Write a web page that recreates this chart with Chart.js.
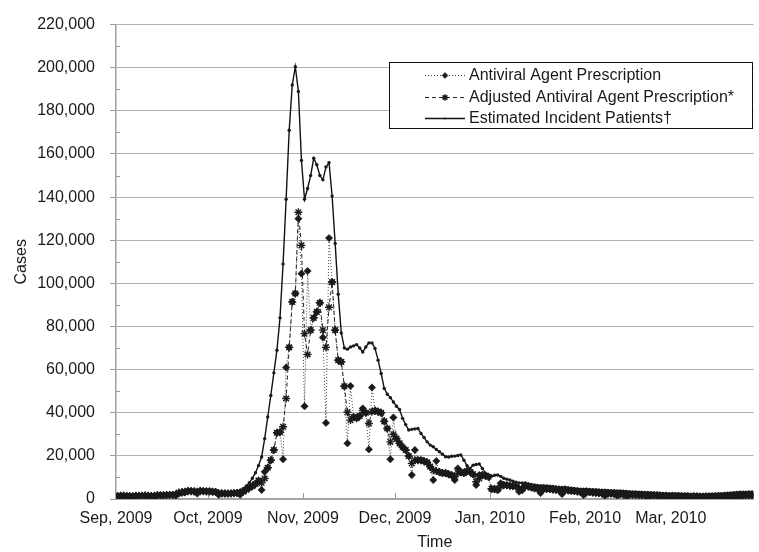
<!DOCTYPE html>
<html>
<head>
<meta charset="utf-8">
<script src="https://cdn.jsdelivr.net/npm/chart.js@4.4.1/dist/chart.umd.min.js"></script>
<style>
  html, body { margin: 0; padding: 0; background: #fff; }
  canvas { display: block; }
</style>
</head>
<body>
<canvas id="chart" width="759" height="552"></canvas>
<script>
// daily values, day 0 = 1 Sep 2009 ... day 207 = 27 Mar 2010
const monthStarts = [0, 30, 61, 91, 122, 153, 181];
const monthLabels = ["Sep, 2009", "Oct, 2009", "Nov, 2009", "Dec, 2009", "Jan, 2010", "Feb, 2010", "Mar, 2010"];
const seriesNames = ["Antiviral Agent Prescription", "Adjusted Antiviral Agent Prescription*", "Estimated Incident Patients\u2020"];

const antiviral = [
  1400,1500,1500,1400,1300,800,1600,1500,1500,1600,
  1500,1400,900,1800,1700,1700,1800,1900,1900,1500,
  2500,2800,3000,3800,3700,3600,2500,3900,3700,3600,
  3600,3400,3300,2000,2700,2600,2500,2600,2700,2900,
  2000,3500,4500,5200,6000,7000,8500,4200,12600,14500,
  18000,22700,30700,31000,18400,61000,70300,91400,95300,130000,
  104500,43000,105700,78300,84000,86800,91000,74900,35300,121000,
  100600,78300,64400,63600,52300,25800,52400,38000,37500,38500,
  42000,40000,23000,51700,41000,40500,40000,36000,32700,18400,
  37800,28000,25800,24000,22700,19900,11100,22700,18000,18000,
  17500,17000,15000,8800,17600,12500,12000,12000,11500,11000,
  8800,14200,12500,12000,13000,12500,11500,6500,11100,11100,
  10800,10300,4500,4500,4000,7300,6500,6400,6200,6000,
  5800,3400,4000,6500,5800,5400,5000,4800,2800,5200,
  4700,4600,4400,4300,4100,2300,4500,4000,3800,3700,
  3500,3300,1800,3500,3200,3000,2900,2800,2600,1500,
  2800,2500,2400,1500,2400,2100,1200,2300,2000,1900,
  1800,1800,1600,900,1800,1600,1500,1400,1400,1300,
  700,1500,1300,1200,1200,1100,1100,600,1300,1100,
  1100,1000,1000,1000,500,1200,1100,1100,1200,1200,
  1200,700,1500,1400,1500,1600,1700,1700
];

const adjusted = [
  1400,1500,1500,1400,1300,1300,1400,1500,1500,1600,
  1500,1400,1500,1700,1700,1700,1800,1900,1900,2200,
  3000,3200,3400,3600,3600,3500,3400,3600,3600,3500,
  3500,3400,3200,2700,2500,2500,2500,2600,2700,2800,
  3000,3400,4300,5200,6000,7000,8500,7500,9500,14500,
  18000,22700,30700,31000,33500,46600,70300,91400,95300,133000,
  117600,76700,67000,78300,84000,86800,91000,78300,70300,88900,
  100600,78300,64400,63600,52300,40200,36600,38000,37500,38500,
  41000,40000,35000,40500,41000,40500,40000,36000,32700,26500,
  30000,28000,25800,24000,22700,19900,16500,18000,18000,18000,
  17500,17000,15000,13400,13000,12500,12000,12000,11500,11000,
  10300,12000,12500,12000,13000,12500,11500,8000,9500,11100,
  10800,10300,4800,4700,4600,6000,6500,6400,6200,6000,
  5800,4800,4800,5800,5800,5400,5000,4800,4000,4600,
  4700,4600,4400,4300,4100,3500,4000,4000,3800,3700,
  3500,3300,2800,3000,3200,3000,2900,2800,2600,2200,
  2400,2500,2400,2100,2200,2100,1800,1900,2000,1900,
  1800,1800,1600,1300,1500,1600,1500,1400,1400,1300,
  1100,1200,1300,1200,1200,1100,1100,900,1000,1100,
  1100,1000,1000,1000,800,1000,1100,1100,1200,1200,
  1200,1100,1300,1400,1500,1600,1700,1700
];

const estimated = [
  1500,1400,1500,1600,1500,1300,1600,1500,1600,1700,
  1600,1700,1500,1800,1900,1800,1900,2000,2300,2800,
  3300,3600,3800,3700,3500,3600,3400,3500,3700,3600,
  3300,2800,2600,2500,2600,2700,2800,3000,3200,3500,
  4000,4800,6000,7600,9600,12200,15500,19500,28000,38000,
  48000,58500,69000,84000,109000,139000,171000,192000,200500,189000,
  157000,139000,144000,150000,158000,155000,150000,148000,154000,156000,
  140500,118500,95000,77000,70000,69500,70500,71000,71600,70000,
  68200,70500,72400,72400,69800,64400,58200,51300,48600,47000,
  45000,43000,41500,37400,34500,32000,32300,32500,32700,30400,
  28500,26500,25000,24200,23000,21900,20800,19600,19500,19800,
  19900,20200,20400,18000,15500,14200,15700,16000,16200,14200,
  12000,10300,10600,11000,11100,10500,9600,9200,8800,8200,
  7800,7500,7400,7300,7000,6700,6500,6300,6200,6100,
  6000,5900,5800,5600,5500,5400,5300,5100,5000,4900,
  4700,4600,4500,4500,4400,4300,4300,4200,4100,4100,
  4000,3900,3800,3700,3700,3600,3500,3400,3300,3300,
  3200,3100,3000,3000,2900,2800,2800,2700,2600,2600,
  2500,2500,2400,2400,2300,2300,2300,2200,2200,2200,
  2100,2100,2200,2200,2300,2300,2400,2500,2600,2700,
  2800,2900,3000,3100,3100,3200,3300,3300
];

const FONT = "'Liberation Sans', Arial, sans-serif";
const INK = "#1a1a1a";
const GRID = "#b0b0b0";

function toPoints(values) {
  return values.map((v, i) => ({ x: i, y: v }));
}

const styles = [
  { borderColor: "#444", borderWidth: 1, borderDash: [1, 2], pointStyle: "rectRot", pointRadius: 3.7,
    pointBackgroundColor: INK, pointBorderColor: INK, pointBorderWidth: 0.5 },
  { borderColor: "#222", borderWidth: 1, borderDash: [4, 3], pointStyle: "star", pointRadius: 4,
    pointBackgroundColor: INK, pointBorderColor: INK, pointBorderWidth: 1.4 },
  { borderColor: "#111", borderWidth: 1.4, borderDash: [], pointStyle: "circle", pointRadius: 1.7,
    pointBackgroundColor: INK, pointBorderColor: INK, pointBorderWidth: 0 }
];

// minor ticks on y, inward month ticks on x
const axisDecor = {
  id: "axisDecor",
  beforeDatasetsDraw(chart) {
    const { ctx, chartArea, scales: { x, y } } = chart;
    ctx.save();
    ctx.strokeStyle = "#9a9a9a";
    ctx.lineWidth = 1;
    ctx.beginPath();
    for (let v = 10000; v < 220000; v += 20000) {
      const py = Math.round(y.getPixelForValue(v)) + 0.5;
      ctx.moveTo(chartArea.left, py);
      ctx.lineTo(chartArea.left + 4, py);
    }
    monthStarts.slice(1).forEach(d => {
      const px = Math.round(x.getPixelForValue(d - 0.5)) + 0.5;
      ctx.moveTo(px, chartArea.bottom);
      ctx.lineTo(px, chartArea.bottom - 6);
    });
    ctx.stroke();
    ctx.restore();
  }
};

// boxed legend inside the plot
const boxLegend = {
  id: "boxLegend",
  afterDraw(chart) {
    const { ctx } = chart;
    const box = { x: 389.5, y: 62.5, w: 363, h: 66 };
    const rows = [75, 97, 118];
    ctx.save();
    ctx.fillStyle = "#fff";
    ctx.fillRect(box.x, box.y, box.w, box.h);
    ctx.strokeStyle = "#111";
    ctx.lineWidth = 1;
    ctx.strokeRect(box.x, box.y, box.w, box.h);
    rows.forEach((ry, i) => {
      const s = styles[i];
      ctx.strokeStyle = s.borderColor;
      ctx.lineWidth = s.borderWidth;
      ctx.setLineDash(s.borderDash);
      ctx.beginPath();
      ctx.moveTo(425, ry + 0.5);
      ctx.lineTo(465, ry + 0.5);
      ctx.stroke();
      ctx.setLineDash([]);
      ctx.fillStyle = s.pointBackgroundColor;
      ctx.strokeStyle = s.pointBorderColor;
      ctx.lineWidth = s.pointBorderWidth;
      Chart.helpers.drawPoint(ctx, { pointStyle: s.pointStyle, radius: s.pointRadius - 0.7, rotation: 0, borderWidth: s.pointBorderWidth }, 445, ry + 0.5);
      ctx.fillStyle = INK;
      ctx.font = "16px " + FONT;
      ctx.textBaseline = "middle";
      ctx.textAlign = "left";
      ctx.fillText(seriesNames[i], 469, ry + 1);
    });
    ctx.restore();
  }
};

const chart = new Chart(document.getElementById("chart"), {
  type: "line",
  data: {
    datasets: [antiviral, adjusted, estimated].map((vals, i) => Object.assign({
      label: seriesNames[i],
      data: toPoints(vals),
      tension: 0,
      fill: false
    }, styles[i]))
  },
  options: {
    responsive: false,
    devicePixelRatio: 1,
    animation: false,
    layout: { padding: { top: 24, right: 1, left: 0, bottom: 0 } },
    plugins: { legend: { display: false }, tooltip: { enabled: false } },
    scales: {
      x: {
        type: "linear",
        min: -0.5,
        max: 207.5,
        afterBuildTicks: scale => {
          scale.ticks = monthStarts.map(d => ({ value: d - 0.5 }));
        },
        afterFit: scale => { scale.height = 53; },
        grid: { display: false, drawTicks: false },
        border: { display: true, color: "#a0a0a0", width: 1.5 },
        ticks: {
          autoSkip: false,
          maxRotation: 0,
          padding: 10,
          color: INK,
          font: { family: FONT, size: 16 },
          callback: value => monthLabels[monthStarts.indexOf(value + 0.5)]
        },
        title: { display: true, text: "Time", color: INK, font: { family: FONT, size: 16 }, padding: { top: 0, bottom: 0 } }
      },
      y: {
        min: 0,
        max: 220000,
        afterFit: scale => { scale.width = 116; },
        grid: { color: GRID, lineWidth: 1, drawTicks: true, tickLength: 6, tickColor: "#9a9a9a" },
        border: { display: true, color: "#a0a0a0", width: 1.5 },
        ticks: {
          stepSize: 20000,
          padding: 15,
          color: INK,
          font: { family: FONT, size: 16 },
          callback: value => value.toLocaleString("en-US")
        },
        title: { display: true, text: "Cases", color: INK, font: { family: FONT, size: 16 }, padding: { top: 12, bottom: 0 } }
      }
    }
  },
  plugins: [axisDecor, boxLegend]
});
</script>
</body>
</html>
